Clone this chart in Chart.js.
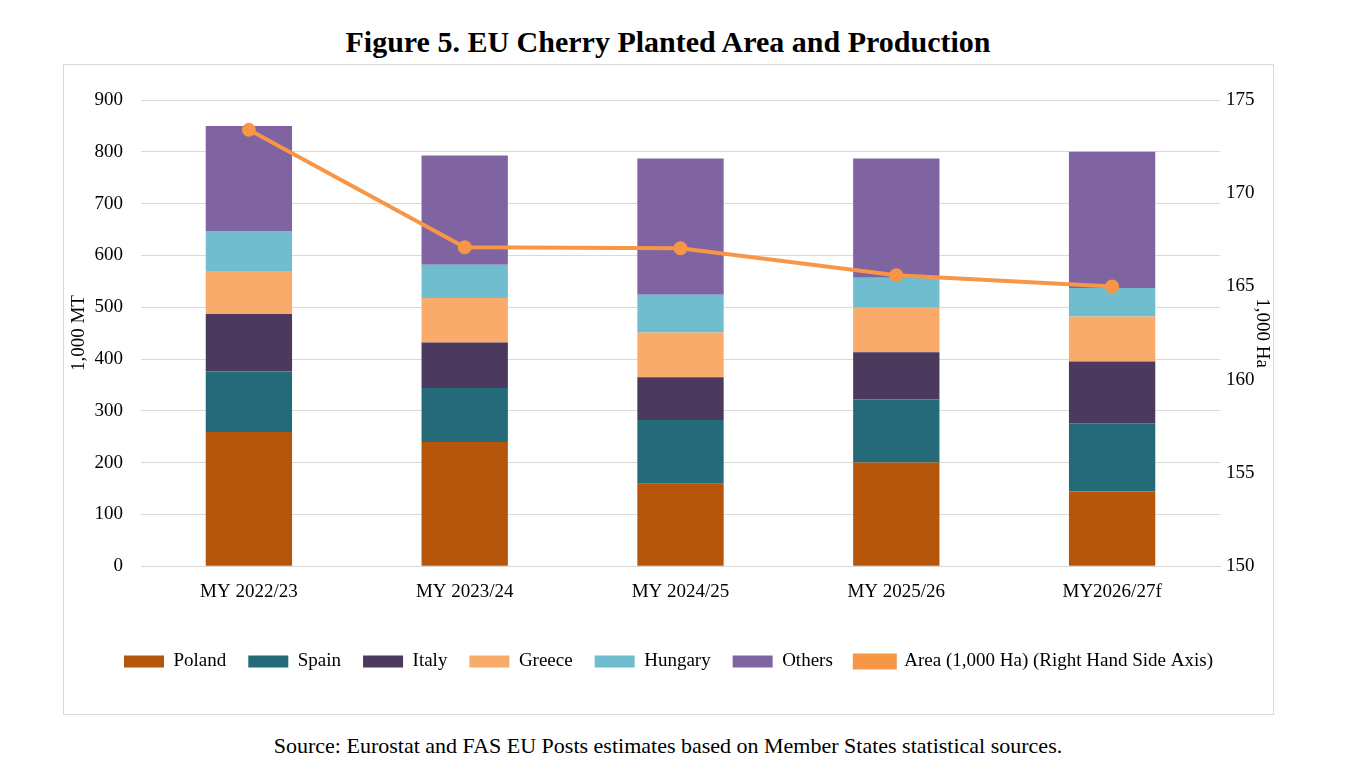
<!DOCTYPE html>
<html><head><meta charset="utf-8">
<script src="https://cdn.jsdelivr.net/npm/chart.js@4"></script>
<style>
body{margin:0;background:#fff;font-family:"Liberation Serif",serif;width:1363px;height:772px;position:relative}
#title{position:absolute;top:25px;left:0;width:1336px;text-align:center;font-weight:bold;font-size:30px}
#box{position:absolute;left:63px;top:64px;width:1209px;height:649px;border:1px solid #d9d9d9}
#src{position:absolute;top:733px;left:0;width:1336px;text-align:center;font-size:22px}
</style></head><body>
<div id="title">Figure 5. EU Cherry Planted Area and Production</div>
<div id="box"><canvas id="c" width="1209" height="649"></canvas></div>
<div id="src">Source: Eurostat and FAS EU Posts estimates based on Member States statistical sources.</div>
<script>
const categories=["MY 2022/23","MY 2023/24","MY 2024/25","MY 2025/26","MY2026/27f"];
const poland=[259,240,159,200,144];
const spain=[117,104,123,122,132];
const italy=[111,88,83,91,119];
const greece=[83,86,86,86,87];
const hungary=[77,64,73,58,55];
const others=[203,211,263,230,263];
const area=[173.4,167.1,167.05,165.6,165.0];
const f={family:"Liberation Serif",size:19};
const bar=(l,d,c)=>({type:'bar',label:l,data:d,backgroundColor:c,yAxisID:'y',stack:'s',barPercentage:0.4,categoryPercentage:1,order:2});
new Chart(document.getElementById('c'),{
data:{labels:categories,datasets:[
{type:'line',label:'Area (1,000 Ha) (Right Hand Side Axis)',data:area,yAxisID:'y1',borderColor:'#F79646',backgroundColor:'#F79646',borderWidth:4,pointRadius:5,pointBackgroundColor:'#F79646',order:1},
bar('Poland',poland,'#B5560A'),bar('Spain',spain,'#256A79'),bar('Italy',italy,'#4B395E'),
bar('Greece',greece,'#F9AB6B'),bar('Hungary',hungary,'#70BDD0'),bar('Others',others,'#8064A2')]},
options:{responsive:false,animation:false,
layout:{padding:{left:0,right:0,top:35,bottom:33}},
plugins:{legend:{position:'bottom',labels:{font:f,color:'#000',boxWidth:40,boxHeight:12,padding:22,
 sort:(a,b)=>(a.datasetIndex===0?99:a.datasetIndex)-(b.datasetIndex===0?99:b.datasetIndex)}},tooltip:{enabled:false}},
scales:{
x:{stacked:true,grid:{display:false},border:{color:'#d9d9d9'},ticks:{font:f,color:'#000',padding:6},afterFit(s){s.height+=21;}},
y:{stacked:true,min:0,max:900,ticks:{stepSize:100,font:f,color:'#000',padding:18},grid:{color:'#d9d9d9',drawTicks:false},border:{display:false},
 title:{display:true,text:'1,000 MT',font:f,color:'#000'},afterFit(s){s.width=77;}},
y1:{position:'right',min:150,max:175,ticks:{stepSize:5,font:f,color:'#000',padding:6},grid:{display:false,drawTicks:false},border:{display:false},
 title:{display:true,text:'1,000 Ha',font:f,color:'#000',padding:{top:0,bottom:4}},afterFit(s){s.width=53;}}
}}});
</script></body></html>
